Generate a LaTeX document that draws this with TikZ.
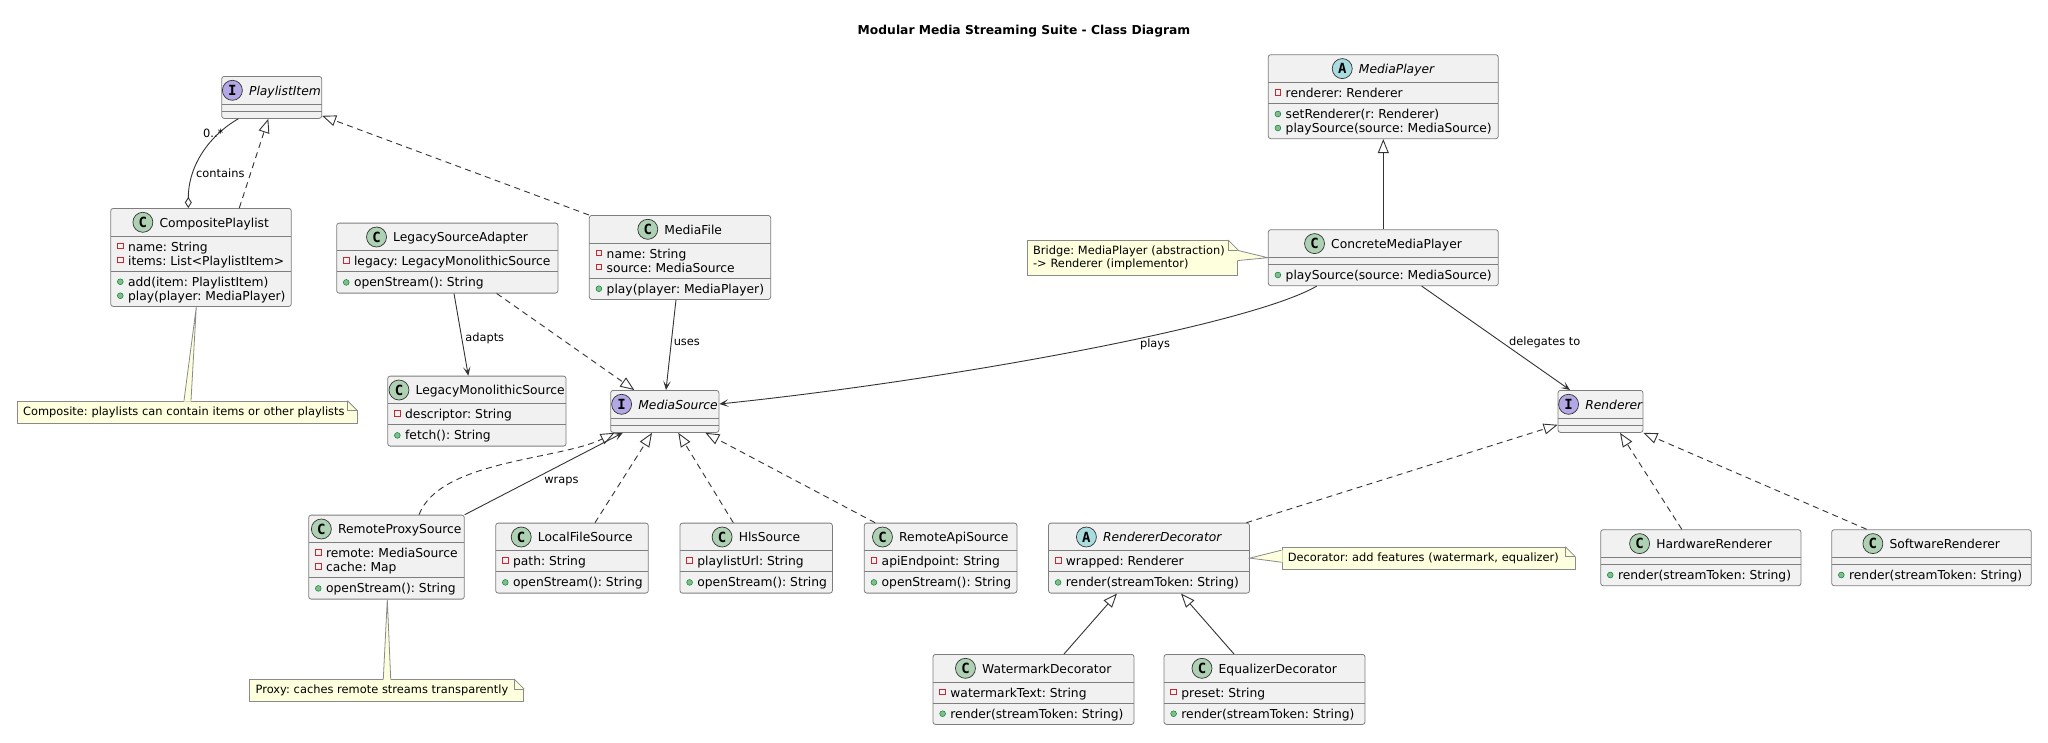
\documentclass[tikz,border=0pt]{standalone}
\usepackage{fontspec}
\setmainfont{DejaVu Sans}
\newfontfamily\monofam{DejaVu Sans Mono}
\usetikzlibrary{arrows.meta,calc}

\definecolor{classbg}{HTML}{F1F1F1}
\definecolor{boxline}{HTML}{7E7E7E}
\definecolor{edgecol}{HTML}{333333}
\definecolor{circline}{HTML}{333333}
\definecolor{cC}{HTML}{ADD1B2}
\definecolor{cI}{HTML}{B4A7E5}
\definecolor{cA}{HTML}{A9DCDF}
\definecolor{privred}{HTML}{C82930}
\definecolor{pubgreen}{HTML}{84BE84}
\definecolor{pubdark}{HTML}{038048}
\definecolor{notefill}{HTML}{FEFFDD}
\definecolor{notedraw}{HTML}{8A8A8A}

\newcommand\memberfont{\frenchspacing\fontsize{12.3pt}{14pt}\selectfont}
\newcommand\labelfont{\frenchspacing\fontsize{11.4pt}{13pt}\selectfont}
\newcommand\notefont{\frenchspacing\fontsize{11.4pt}{12.8pt}\selectfont}
\newcommand\letterfont{\monofam\bfseries\fontsize{14pt}{14pt}\selectfont}

\tikzset{
  classbox/.style={draw=boxline, fill=classbg, line width=0.8pt, rounded corners=2.5pt, inner sep=0pt},
  sepline/.style={draw=boxline, line width=0.8pt},
  titletext/.style={inner sep=0pt, font=\memberfont, anchor=base},
  classcircle/.style={circle, draw=circline, line width=0.7pt, minimum size=20pt, inner sep=0pt, font=\letterfont},
  membertext/.style={inner sep=0pt, font=\memberfont, anchor=base west},
  vispriv/.style={rectangle, draw=privred, line width=0.7pt, minimum size=5.6pt, inner sep=0pt, yshift=5.2pt},
  vispub/.style={circle, draw=pubdark, fill=pubgreen, line width=0.5pt, minimum size=5.8pt, inner sep=0pt, yshift=4.3pt},
  conn/.style={draw=edgecol, line width=0.9pt},
  realline/.style={conn, dash pattern=on 6pt off 4.5pt, -{Triangle[length=14pt,width=11pt,fill=white]}},
  genline/.style={conn, -{Triangle[length=14pt,width=11pt,fill=white]}},
  assocline/.style={conn, -{Stealth[length=9pt,width=7.5pt,inset=4.5pt]}},
  elabel/.style={font=\labelfont, inner sep=0pt, text=black},
  notebox/.style={draw=notedraw, fill=notefill, line width=0.8pt, inner xsep=6pt, inner ysep=0pt, font=\notefont, align=left, anchor=north west},
  noteline/.style={draw=notedraw, line width=0.8pt},
}

% class box: name, centre x, top y, width, attribute lines, method lines
\newcommand\umlbox[6]{%
  \pgfmathsetmacro\clsH{42+14*(#5+#6)}%
  \pgfmathsetmacro\clsL{#2-#4/2}%
  \pgfmathsetmacro\clsR{#2+#4/2}%
  \pgfmathsetmacro\clsA{#3+28}%
  \pgfmathsetmacro\clsB{#3+35+14*#5}%
  \node[classbox, minimum width=#4pt, minimum height=\clsH pt, anchor=north] (#1) at (#2,#3) {};
  \draw[sepline] (\clsL,\clsA) -- (\clsR,\clsA);
  \draw[sepline] (\clsL,\clsB) -- (\clsR,\clsB);
}
% header: name, circle colour, letter, title
\newcommand\umlhead[4]{%
  \node[titletext] (#1T) at ($(#1.north)+(13.25,19)$) {#4};
  \node[classcircle, fill=#2] (#1C) at ($(#1T.west |- #1.north)+(-16.5,14.3)$) {#3};
}
% rows: name, section offset, icon style, list
\newcommand\umlrows[4]{%
  \foreach[count=\i] \txt in {#4}{%
    \pgfmathsetmacro\yy{#2+15+14*(\i-1)}%
    \node[#3] at ($(#1.north west)+(10,\yy)$) {};
    \node[membertext] at ($(#1.north west)+(17.6,\yy)$) {\txt};
  }%
}
\newcommand\notefold[1]{%
  \fill[white] ($(#1.north east)+(-11,-1)$) -- ($(#1.north east)+(1,-1)$) -- ($(#1.north east)+(1,11)$) -- cycle;
  \draw[noteline] ($(#1.north east)+(-10,0)$) -- ($(#1.north east)+(0,10)$);
  \draw[noteline] ($(#1.north east)+(-10,0)$) -- ($(#1.north east)+(-10,10)$) -- ($(#1.north east)+(0,10)$);
}

\begin{document}
\begin{tikzpicture}[x=1pt,y=-1pt]
\useasboundingbox (0,0) rectangle (2048,742);
\fill[white] (0,0) rectangle (2048,742);

\node[font=\bfseries\fontsize{12.3pt}{14pt}\selectfont, inner sep=0pt] (title) at (1024,30.7) {Modular Media Streaming Suite - Class Diagram};

% ---- classes ----
\umlbox{pi}{271.7}{76}{100}{0}{0}
\umlhead{pi}{cI}{I}{\itshape PlaylistItem}

\umlbox{cp}{201}{208}{180.6}{2}{2}
\umlhead{cp}{cC}{C}{CompositePlaylist}
\umlrows{cp}{28}{vispriv}{name: String, items: List<PlaylistItem>}
\umlrows{cp}{63}{vispub}{add(item: PlaylistItem), play(player: MediaPlayer)}

\umlbox{lsa}{447.3}{222.7}{221.3}{1}{1}
\umlhead{lsa}{cC}{C}{LegacySourceAdapter}
\umlrows{lsa}{28}{vispriv}{legacy: LegacyMonolithicSource}
\umlrows{lsa}{49}{vispub}{openStream(): String}

\umlbox{mf}{680}{215}{181.4}{2}{1}
\umlhead{mf}{cC}{C}{MediaFile}
\umlrows{mf}{28}{vispriv}{name: String, source: MediaSource}
\umlrows{mf}{63}{vispub}{play(player: MediaPlayer)}

\umlbox{lms}{476.9}{375.7}{178.3}{1}{1}
\umlhead{lms}{cC}{C}{LegacyMonolithicSource}
\umlrows{lms}{28}{vispriv}{descriptor: String}
\umlrows{lms}{49}{vispub}{fetch(): String}

\umlbox{ms}{664.8}{390}{108.3}{0}{0}
\umlhead{ms}{cI}{I}{\itshape MediaSource}

\umlbox{mp}{1383.3}{54.3}{230}{1}{2}
\umlhead{mp}{cA}{A}{\itshape MediaPlayer}
\umlrows{mp}{28}{vispriv}{renderer: Renderer}
\umlrows{mp}{49}{vispub}{setRenderer(r: Renderer), playSource(source: MediaSource)}

\umlbox{cmp}{1383.3}{229.3}{230}{0}{1}
\umlhead{cmp}{cC}{C}{ConcreteMediaPlayer}
\umlrows{cmp}{35}{vispub}{playSource(source: MediaSource)}

\umlbox{rn}{1600.5}{390}{85}{0}{0}
\umlhead{rn}{cI}{I}{\itshape Renderer}

\umlbox{rps}{386.5}{514.7}{155.6}{2}{1}
\umlhead{rps}{cC}{C}{RemoteProxySource}
\umlrows{rps}{28}{vispriv}{remote: MediaSource, cache: Map}
\umlrows{rps}{63}{vispub}{openStream(): String}

\umlbox{lfs}{572}{522.7}{152.6}{1}{1}
\umlhead{lfs}{cC}{C}{LocalFileSource}
\umlrows{lfs}{28}{vispriv}{path: String}
\umlrows{lfs}{49}{vispub}{openStream(): String}

\umlbox{hls}{756.2}{522.7}{152.4}{1}{1}
\umlhead{hls}{cC}{C}{HlsSource}
\umlrows{hls}{28}{vispriv}{playlistUrl: String}
\umlrows{hls}{49}{vispub}{openStream(): String}

\umlbox{ras}{940.6}{522.7}{152.6}{1}{1}
\umlhead{ras}{cC}{C}{RemoteApiSource}
\umlrows{ras}{28}{vispriv}{apiEndpoint: String}
\umlrows{ras}{49}{vispub}{openStream(): String}

\umlbox{rd}{1149}{522.7}{201}{1}{1}
\umlhead{rd}{cA}{A}{\itshape RendererDecorator}
\umlrows{rd}{28}{vispriv}{wrapped: Renderer}
\umlrows{rd}{49}{vispub}{render(streamToken: String)}

\umlbox{wd}{1033.5}{654}{201}{1}{1}
\umlhead{wd}{cC}{C}{WatermarkDecorator}
\umlrows{wd}{28}{vispriv}{watermarkText: String}
\umlrows{wd}{49}{vispub}{render(streamToken: String)}

\umlbox{ed}{1264.5}{654}{201}{1}{1}
\umlhead{ed}{cC}{C}{EqualizerDecorator}
\umlrows{ed}{28}{vispriv}{preset: String}
\umlrows{ed}{49}{vispub}{render(streamToken: String)}

\umlbox{hr}{1700.8}{529.3}{200.3}{0}{1}
\umlhead{hr}{cC}{C}{HardwareRenderer}
\umlrows{hr}{35}{vispub}{render(streamToken: String)}

\umlbox{sr}{1931.5}{529.3}{199.6}{0}{1}
\umlhead{sr}{cC}{C}{SoftwareRenderer}
\umlrows{sr}{35}{vispub}{render(streamToken: String)}

% ---- notes ----
\node[notebox, text width=328pt, minimum height=22pt] (ncomp) at (16.7,400.7) {Composite: playlists can contain items or other playlists};
\notefold{ncomp}
\node[notebox, text width=198.6pt, minimum height=35pt] (nbridge) at (1026.7,240) {Bridge: MediaPlayer (abstraction)\\-> Renderer (implementor)};
\notefold{nbridge}
\node[notebox, text width=262pt, minimum height=22pt] (nproxy) at (249.3,679) {Proxy: caches remote streams transparently};
\notefold{nproxy}
\node[notebox, text width=281pt, minimum height=22pt] (ndeco) at (1281.5,546.7) {Decorator: add features (watermark, equalizer)};
\notefold{ndeco}

% note wedges
\fill[notefill] ($(ncomp.north west)+(167.3,1)$) -- ($(cp.south)+(-4.7,0)$) -- ($(ncomp.north west)+(174.3,1)$) -- cycle;
\draw[noteline] ($(ncomp.north west)+(167.3,0)$) -- ($(cp.south)+(-4.7,0)$) -- ($(ncomp.north west)+(174.3,0)$);
\fill[notefill] ($(nproxy.north west)+(134,1)$) -- ($(rps.south)+(0.8,0)$) -- ($(nproxy.north west)+(141.4,1)$) -- cycle;
\draw[noteline] ($(nproxy.north west)+(134,0)$) -- ($(rps.south)+(0.8,0)$) -- ($(nproxy.north west)+(141.4,0)$);
\fill[notefill] ($(nbridge.north east)+(-1,10.5)$) -- (cmp.west) -- ($(nbridge.north east)+(-1,20.5)$) -- cycle;
\draw[noteline] ($(nbridge.north east)+(0,10.5)$) -- (cmp.west) -- ($(nbridge.north east)+(0,20.5)$);
\fill[notefill] ($(ndeco.north west)+(1,3.5)$) -- (rd.east) -- ($(ndeco.north west)+(1,15.5)$) -- cycle;
\draw[noteline] ($(ndeco.north west)+(0,3.5)$) -- (rd.east) -- ($(ndeco.north west)+(0,15.5)$);

% ---- connectors ----
\draw[conn, {Diamond[length=11pt,width=7pt,fill=white]}-] ($(cp.north)+(-12.7,0)$) .. controls (188.3,165) and (210,135) .. ($(pi.south)+(-33.4,0)$)
  node[elabel, pos=0.3, anchor=west, xshift=2pt] {contains}
  node[elabel, at end, xshift=-25pt, yshift=-14.3pt] {0..*};
\draw[realline] ($(cp.north)+(38.3,0)$) -- ($(pi.south)+(-3.4,0)$);
\draw[realline] (mf.north west) -- ($(pi.south east)+(0,-3)$);

\draw[assocline] ($(lsa.south)+(6.7,0)$) -- ($(lms.north)+(-8.6,0)$) node[elabel, pos=0.55, anchor=west, xshift=3pt] {adapts};
\draw[realline] ($(lsa.south)+(49.4,0)$) -- ($(ms.north west)+(24,0)$);
\draw[assocline] ($(mf.south)+(-4,0)$) -- ($(ms.north)+(1.2,0)$) node[elabel, pos=0.47, anchor=west, xshift=2pt] {uses};

\draw[assocline] ($(cmp.south)+(-66.6,0)$) .. controls (1250,325) and (950,380) .. ($(ms.north east)+(0,14)$) node[elabel, pos=0.4, xshift=11pt, yshift=-6.5pt] {plays};
\draw[assocline] ($(cmp.south)+(38.4,0)$) -- ($(rn.north)+(-30.5,0)$) node[elabel, pos=0.54, anchor=west, xshift=7pt] {delegates to};
\draw[genline] (cmp.north) -- (mp.south);

\draw[realline] ($(rps.north)+(32.5,0)$) .. controls (440,460) and (560,460) .. ($(ms.south west)+(4.3,0)$);
\draw[assocline] (rps.north east) -- ($(ms.south west)+(12.6,0)$) node[elabel, pos=0.4, anchor=west, xshift=16pt] {wraps};
\draw[realline] ($(lfs.north)+(23,0)$) -- ($(ms.south)+(-12.8,0)$);
\draw[realline] ($(hls.north)+(-22.9,0)$) -- ($(ms.south)+(13.5,0)$);
\draw[realline] ($(ras.north)+(-65.5,0)$) -- ($(ms.south east)+(-14,0)$);

\draw[realline] ($(rd.north east)+(-3.5,0)$) -- ($(rn.south west)+(0,-8)$);
\draw[realline] ($(hr.north)+(-19,0)$) -- ($(rn.south)+(19.5,0)$);
\draw[realline] ($(sr.north)+(-64.8,0)$) -- (rn.south east);
\draw[genline] ($(wd.north)+(30.5,0)$) -- ($(rd.south)+(-32,0)$);
\draw[genline] ($(ed.north)+(-30.5,0)$) -- ($(rd.south)+(32,0)$);
\end{tikzpicture}
\end{document}
